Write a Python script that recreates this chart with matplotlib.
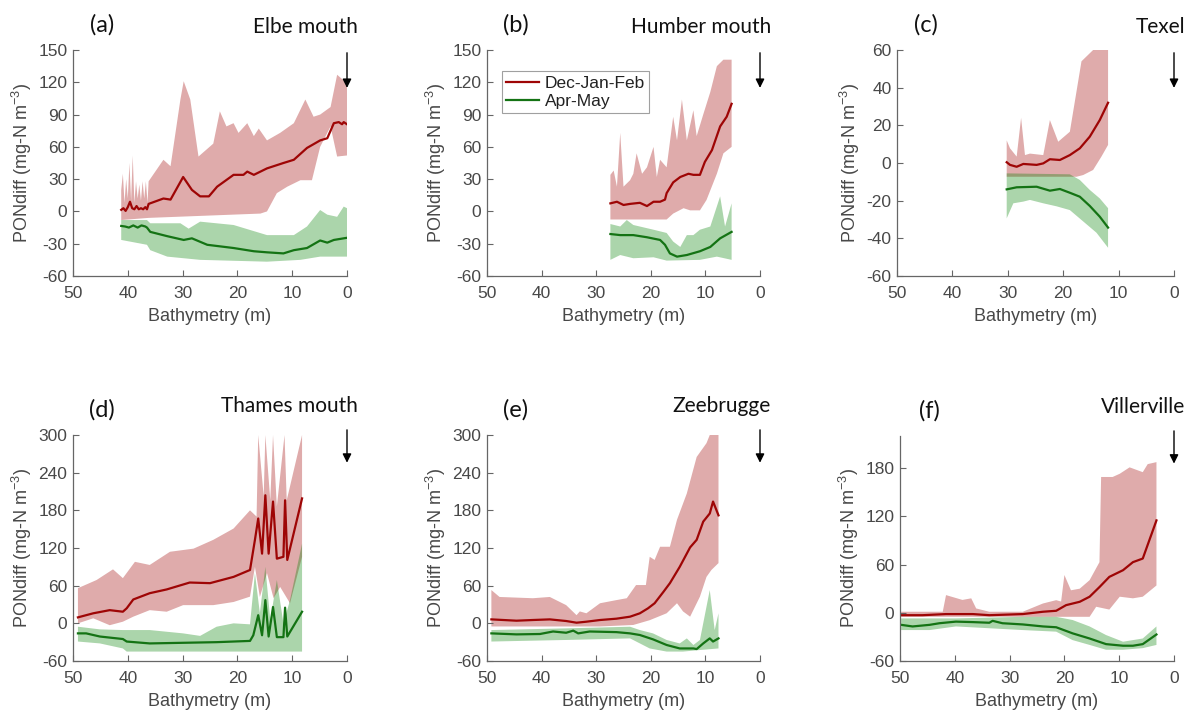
import numpy as np
import matplotlib
matplotlib.use("Agg")
import matplotlib.pyplot as plt

plt.rcParams['font.family'] = ['Liberation Sans', 'DejaVu Sans']
plt.rcParams['mathtext.default'] = 'regular'
plt.rcParams['axes.unicode_minus'] = False

#########################################################################
# data (depth in m, PONdiff in mg-N m-3)

# (a) Elbe mouth
a_red_x = [41.2, 40.8, 40.4, 40.0, 39.6, 39.2, 38.8, 38.4, 38.0, 37.6, 37.2, 36.8, 36.5, 36.2, 33.5, 32.2, 29.9, 28.3,
           26.8, 25.2, 23.7, 20.7, 18.9, 18.2, 17.0, 14.6, 11.6, 9.7, 7.3, 4.9, 3.6, 2.4, 1.5, 0.9, 0.6, 0.0]
a_red_y = [1.5, 3, 0.5, 4, 9, 3, 2, 5, 2, 3, 2, 4, 2, 7, 12, 11, 32, 20,
           14, 14, 23, 34, 34, 37, 34, 40, 45, 48, 59, 66, 68, 82, 83, 81, 83, 81]
a_red_up_x = [41.2, 40.9, 40.6, 40.3, 40.0, 39.7, 39.4, 39.1, 38.8, 38.5, 38.2, 37.9, 37.6, 37.3, 37.0, 36.7, 36.4,
              36.2, 33.5, 32.2, 30.4, 29.8, 28.6, 27.1, 24.4, 23.2, 22.0, 20.7, 19.8, 18.2, 17.0, 16.1, 14.6,
              12.2, 9.7, 7.6, 6.1, 4.9, 3.0, 1.8, 0.0]
a_red_up_y = [20, 35, 8, 30, 12, 45, 10, 52, 8, 28, 12, 25, 10, 28, 12, 28, 8,
              28, 48, 42, 104, 121, 104, 51, 63, 93, 79, 82, 73, 82, 70, 77, 66,
              73, 82, 104, 88, 90, 97, 127, 119]
a_red_lo_x = [41.2, 36.2, 15.8, 14.6, 12.8, 10.9, 8.5, 6.4, 4.9, 3.0, 1.8, 0.0]
a_red_lo_y = [-8, -6, -2, 0, 17, 23, 29, 29, 60, 79, 51, 52]
a_grn_x = [41.2, 40.5, 39.8, 39.0, 38.2, 37.5, 36.8, 36.5, 35.9, 32.8, 29.8, 28.3, 25.5, 20.7, 17.0, 14.6,
           11.6, 9.7, 7.3, 4.9, 3.6, 2.4, 0.0]
a_grn_y = [-13.5, -14, -15, -13, -15, -13, -14, -15, -19, -23, -26.5, -25, -31, -34, -37, -38,
           -39, -36, -34, -27, -29, -26.5, -24.5]
a_grn_up_x = [41.2, 36.5, 35.9, 30.4, 28.9, 26.8, 20.7, 14.6, 9.7, 7.3, 4.9, 3.6, 1.8, 0.6, 0.0]
a_grn_up_y = [-8, -8, -11, -11, -16, -9.5, -12.6, -22, -22, -14, 1.3, -3, -5, 4.5, 3]
a_grn_lo_x = [41.2, 36.5, 35.9, 32.8, 26.8, 14.6, 8.5, 4.9, 0.0]
a_grn_lo_y = [-26.5, -31, -36, -42, -45, -46.7, -45, -42, -42]

# (b) Humber mouth
b_red_x = [27.4, 26.2, 25.0, 23.8, 22.0, 20.7, 19.5, 18.3, 17.4, 17.1, 15.9, 14.6, 13.1, 12.2, 11.0, 10.1, 8.8, 7.3, 6.1, 5.2]
b_red_y = [7.5, 9, 6, 7, 8, 5, 9, 9, 11, 17, 27, 32, 35, 34, 34, 46, 57, 79, 88, 100]
b_red_up_x = [27.4, 26.8, 26.2, 25.6, 25.0, 23.8, 23.2, 22.6, 21.6, 20.7, 19.5, 18.9, 18.3, 17.1, 15.9, 15.2, 14.3,
              13.4, 12.2, 11.6, 10.4, 9.1, 7.9, 6.7, 5.2]
b_red_up_y = [34, 38, 23, 73, 23, 29, 35, 54, 35, 41, 60, 32, 48, 41, 88, 66, 104,
              66, 94, 70, 90, 111, 135, 141, 141]
b_red_lo_x = [27.4, 17.1, 15.9, 14.0, 12.8, 11.0, 9.8, 7.9, 6.7, 5.2]
b_red_lo_y = [-7.5, -7.5, -2, 3, 1, 1, 10.6, 35, 54, 60]
b_grn_x = [27.4, 25.6, 23.2, 20.7, 18.3, 17.4, 16.5, 15.2, 13.4, 11.0, 9.1, 7.3, 5.2]
b_grn_y = [-21, -22, -22, -24, -26.5, -31, -39, -42, -40.5, -37, -33, -25, -19]
b_grn_up_x = [27.4, 25.6, 24.4, 23.2, 19.5, 17.1, 15.9, 14.6, 13.4, 12.2, 11.0, 9.1, 7.3, 6.4, 5.2]
b_grn_up_y = [-11.7, -14, -8, -12.6, -17, -20, -28, -33, -22, -22, -17, -14, 14, -14, 7.5]
b_grn_lo_x = [27.4, 25.6, 23.2, 19.5, 17.1, 11.0, 7.9, 5.2]
b_grn_lo_y = [-45, -40.5, -43.5, -42.6, -45.7, -45, -42, -45]

# (c) Texel
c_red_x = [30.2, 29.6, 28.4, 27.2, 24.8, 23.6, 22.4, 20.6, 18.8, 17.0, 15.2, 13.4, 11.9]
c_red_y = [0.4, -1, -2, -0.5, -1, -0.2, 2, 1.6, 4.2, 7.8, 14, 22.8, 32]
c_red_up_x = [30.2, 29.6, 28.4, 27.6, 26.9, 26.0, 23.6, 22.4, 20.9, 18.8, 16.7, 14.6, 11.9]
c_red_up_y = [12, 7.8, 3.4, 24, 4.2, 5, 4.2, 22.8, 11.3, 16.6, 54, 60, 60]
c_red_lo_x = [30.2, 17.6, 16.4, 14.6, 13.1, 11.9]
c_red_lo_y = [-7.3, -7.3, -6.4, -3.7, 3.4, 9.6]
c_grn_x = [30.2, 28.4, 24.8, 22.4, 20.6, 18.8, 17.0, 15.2, 13.4, 11.9]
c_grn_y = [-14, -12.9, -12.6, -14.7, -13.8, -15.8, -17.9, -22.8, -28.5, -34.3]
c_grn_up_x = [30.2, 18.8, 17.0, 15.2, 13.4, 11.9]
c_grn_up_y = [-5.5, -6, -9, -14.3, -18.8, -24]
c_grn_lo_x = [30.2, 29.0, 27.2, 26.0, 23.6, 21.2, 18.8, 16.4, 14.0, 11.9]
c_grn_lo_y = [-29.4, -21.4, -20.5, -19.6, -21.4, -23, -25, -31, -37, -45]

# (d) Thames mouth
d_red_x = [49.1, 46.3, 43.3, 40.9, 40.2, 39.0, 36.0, 32.9, 28.7, 25.0, 20.7, 17.7, 16.8, 16.2, 15.5, 14.9, 14.3,
           13.5, 12.8, 11.6, 11.3, 10.9, 8.2]
d_red_y = [9.5, 16, 21, 18.5, 24, 38, 48, 54, 65, 64, 74, 85, 133, 167, 111, 204, 111,
           194, 103, 106, 196, 101, 199]
d_red_up_x = [49.1, 45.7, 42.7, 40.9, 38.7, 36.0, 32.3, 28.0, 24.4, 20.7, 17.7, 16.5, 16.2, 15.2, 14.9, 14.0,
              13.5, 12.8, 11.4, 11.0, 8.2]
d_red_up_y = [56, 69, 86, 72, 98, 93, 114, 119, 133, 151, 180, 170, 300, 202, 300, 196,
              300, 186, 300, 196, 300]
d_red_lo_x = [49.1, 46.3, 43.3, 40.9, 39.0, 36.0, 32.9, 29.9, 24.4, 20.7, 17.7, 16.8, 15.9, 14.6, 13.4, 12.2,
              10.4, 8.2]
d_red_lo_y = [0, 8, -3, 2.6, 10.6, 21, 18.5, 29, 29, 34, 42.5, 90, 42, 80, 40, 58, 32, 106]
d_grn_x = [49.1, 47.6, 45.1, 40.9, 40.2, 36.0, 29.9, 23.8, 17.7, 17.1, 16.2, 15.5, 14.9, 14.3, 13.5, 12.8,
           11.6, 11.3, 10.9, 8.2]
d_grn_y = [-16, -16, -21, -25, -29, -32, -31, -30, -28, -19, 13, -19, 37, -21, 26, -22, -22, 25, -21, 18.5]
d_grn_up_x = [49.1, 45.1, 40.9, 36.0, 29.9, 26.8, 23.8, 20.7, 17.7, 16.8, 15.9, 14.9, 14.0, 12.8, 11.6, 10.4, 8.2]
d_grn_up_y = [-5.4, -9.6, -10.7, -10.7, -16, -20, -5.4, 0, -1.6, 80, 16, 90, 5, 69, 0, 37, 127]
d_grn_lo_x = [49.1, 45.1, 40.9, 40.2, 8.2]
d_grn_lo_y = [-29, -32, -40, -45, -45]

# (e) Zeebrugge
e_red_x = [49.2, 44.6, 41.6, 38.5, 35.5, 33.6, 31.8, 29.3, 26.3, 23.8, 22.0, 20.5, 19.3, 17.7, 16.5, 14.7,
           12.8, 11.6, 10.4, 9.2, 8.6, 7.6]
e_red_y = [6.3, 4.2, 5.3, 6.3, 3.7, 1, 2.6, 5.3, 7.4, 10.6, 16, 24, 32, 50, 64, 90,
           121, 133, 162, 175, 194, 172]
e_red_up_x = [49.2, 47.7, 41.6, 38.5, 35.5, 33.6, 33.0, 31.8, 29.3, 26.3, 24.4, 22.7, 20.9, 20.2, 19.3, 18.3,
              16.5, 15.2, 13.4, 11.6, 9.8, 9.2, 7.6]
e_red_up_y = [53, 42, 40, 42, 29, 13, 19, 16, 32, 37, 40, 61, 61, 106, 101, 122,
              122, 165, 207, 265, 287, 300, 300]
e_red_lo_x = [49.2, 29.3, 23.2, 20.2, 17.1, 15.2, 14.1, 12.8, 11.0, 9.8, 8.9, 7.6]
e_red_lo_y = [-5, -5, -2.6, 5, 16, 32, 19, 10.6, 42.5, 74, 85, 96]
e_grn_x = [49.2, 44.6, 40.3, 37.9, 35.5, 34.2, 33.3, 31.2, 26.3, 23.8, 22.0, 19.6, 17.1, 14.7, 12.2, 11.6,
           10.4, 9.2, 8.6, 7.6]
e_grn_y = [-16, -17.6, -17, -13, -15, -11.6, -16, -13, -14, -16, -18.6, -25.5, -34.5, -40, -40, -41,
           -32, -24, -29, -24]
e_grn_up_x = [49.2, 35.5, 23.8, 22.0, 19.6, 17.1, 14.7, 13.4, 12.2, 11.0, 9.2, 8.3, 7.6]
e_grn_up_y = [-10.7, -8, -5.4, -10.7, -16, -26.5, -32, -24, -34.5, -26.5, 53, -10.7, 16]
e_grn_lo_x = [49.2, 35.5, 23.8, 20.2, 17.1, 14.1, 11.0, 7.6]
e_grn_lo_y = [-29, -26.5, -24, -40, -45, -45, -42.5, -40]

# (f) Villerville
f_red_x = [49.8, 45.9, 41.6, 36.7, 33.7, 27.6, 23.9, 21.5, 19.7, 17.2, 15.4, 13.6, 11.8, 9.3, 7.5, 5.7, 3.2]
f_red_y = [-3, -3, -1.6, -1.6, -3, -1.6, 1.3, 2.5, 9.5, 13.7, 20, 32, 44.7, 53, 63, 67.5, 115]
f_red_up_x = [49.8, 42.2, 41.6, 38.6, 37.0, 36.1, 33.7, 27.6, 23.9, 21.5, 20.6, 20.0, 18.8, 17.2, 15.4, 13.6,
              13.3, 11.2, 9.9, 8.1, 5.7, 4.8, 3.2]
f_red_up_y = [1.3, 1.3, 22, 16, 18, 5.4, 1.3, 1.3, 11.6, 15.7, 14, 47, 28, 30, 40.6, 63,
              169, 169, 173, 181, 175, 185, 187.5]
f_red_lo_x = [49.8, 15.4, 14.2, 11.8, 9.9, 7.5, 5.7, 3.2]
f_red_lo_y = [-5, -5, 7.5, 4, 20, 18, 20, 34]
f_grn_x = [49.8, 47.7, 44.6, 42.8, 39.8, 36.7, 33.7, 33.1, 31.3, 27.6, 23.9, 21.5, 18.5, 15.4, 12.4, 9.3,
           7.5, 5.7, 3.2]
f_grn_y = [-15, -17, -15, -13, -11, -11.6, -12.4, -10, -13, -14.5, -17, -18, -25.6, -32, -39, -41,
           -41, -39, -27]
f_grn_up_x = [49.8, 39.8, 27.6, 21.5, 18.5, 15.4, 12.4, 9.3, 5.7, 3.2]
f_grn_up_y = [-7, -7, -5, -5, -9, -17, -27.7, -36, -32, -17]
f_grn_lo_x = [49.8, 44.6, 39.8, 27.6, 21.5, 18.5, 15.4, 12.4, 9.3, 5.7, 3.2]
f_grn_lo_y = [-21.5, -21.5, -17, -21.5, -23.5, -34, -40, -46, -46, -44, -40]

panel_labels = ["(a)", "(b)", "(c)", "(d)", "(e)", "(f)"]
site_names = ["Elbe mouth", "Humber mouth", "Texel", "Thames mouth", "Zeebrugge", "Villerville"]
series_names = ["Dec-Jan-Feb", "Apr-May"]
y_limits = [(-60, 150), (-60, 150), (-60, 60), (-60, 300), (-60, 300), (-60, 220)]
y_ticks = [np.arange(-60, 151, 30), np.arange(-60, 151, 30), np.arange(-60, 61, 20),
           np.arange(-60, 301, 60), np.arange(-60, 301, 60), np.arange(-60, 181, 60)]
x_ticks = [50, 40, 30, 20, 10, 0]

#########################################################################

red_line = (0.62, 0.02, 0.02)
red_fill = (0.62, 0.0, 0.0)
grn_line = (0.08, 0.45, 0.08)
grn_fill = (0.0, 0.5, 0.0)
tick_col = '#484848'

panels = [
    (a_red_x, a_red_y, a_red_up_x, a_red_up_y, a_red_lo_x, a_red_lo_y,
     a_grn_x, a_grn_y, a_grn_up_x, a_grn_up_y, a_grn_lo_x, a_grn_lo_y),
    (b_red_x, b_red_y, b_red_up_x, b_red_up_y, b_red_lo_x, b_red_lo_y,
     b_grn_x, b_grn_y, b_grn_up_x, b_grn_up_y, b_grn_lo_x, b_grn_lo_y),
    (c_red_x, c_red_y, c_red_up_x, c_red_up_y, c_red_lo_x, c_red_lo_y,
     c_grn_x, c_grn_y, c_grn_up_x, c_grn_up_y, c_grn_lo_x, c_grn_lo_y),
    (d_red_x, d_red_y, d_red_up_x, d_red_up_y, d_red_lo_x, d_red_lo_y,
     d_grn_x, d_grn_y, d_grn_up_x, d_grn_up_y, d_grn_lo_x, d_grn_lo_y),
    (e_red_x, e_red_y, e_red_up_x, e_red_up_y, e_red_lo_x, e_red_lo_y,
     e_grn_x, e_grn_y, e_grn_up_x, e_grn_up_y, e_grn_lo_x, e_grn_lo_y),
    (f_red_x, f_red_y, f_red_up_x, f_red_up_y, f_red_lo_x, f_red_lo_y,
     f_grn_x, f_grn_y, f_grn_up_x, f_grn_up_y, f_grn_lo_x, f_grn_lo_y),
]

W, H = 1194, 715
fig = plt.figure(figsize=(W / 100, H / 100), dpi=100)

# axes boxes in pixels: left, top, right, bottom
boxes = [(73, 50, 347, 276), (487, 50, 760, 276), (897, 50, 1174, 276),
         (73, 435, 347, 661), (487, 435, 760, 661), (900, 436, 1174, 661)]


def band(ax, ux, uy, lx, ly, col):
    px = np.concatenate([ux, lx[::-1]])
    py = np.concatenate([uy, ly[::-1]])
    ax.fill(px, py, color=col, alpha=0.33, lw=0)


for i, (l, t, r, b) in enumerate(boxes):
    ax = fig.add_axes([l / W, 1 - b / H, (r - l) / W, (b - t) / H])
    (rx, ry, rux, ruy, rlx, rly, gx, gy, gux, guy, glx, gly) = [np.array(v, dtype=float) for v in panels[i]]

    band(ax, rux, ruy, rlx, rly, red_fill)
    band(ax, gux, guy, glx, gly, grn_fill)
    ax.plot(rx, ry, color=red_line, lw=1.6, label=series_names[0])
    ax.plot(gx, gy, color=grn_line, lw=1.6, label=series_names[1])

    ax.set_xlim(50, 0)
    ax.set_ylim(*y_limits[i])
    ax.set_xticks(x_ticks)
    ax.set_yticks(y_ticks[i])
    ax.spines['top'].set_visible(False)
    ax.spines['right'].set_visible(False)
    for s in ['left', 'bottom']:
        ax.spines[s].set_color('#666666')
        ax.spines[s].set_linewidth(0.9)
    ax.tick_params(direction='in', length=4, width=0.8, colors='#666666', labelcolor=tick_col,
                   labelsize=12.5)
    ax.tick_params(axis='x', pad=7)
    ax.tick_params(axis='y', pad=4)
    ax.set_xlabel('Bathymetry (m)', fontsize=13, color=tick_col, labelpad=5)
    ax.set_ylabel('PONdiff (mg-N m$^{-3}$)', fontsize=13, color=tick_col, labelpad=3)

    # arrow marking the mouth (0 m)
    y_top = 1.0 if i < 3 else 1.035
    y_tip = 0.82 if i < 3 else 0.865
    ax.annotate('', xy=(0, y_tip), xytext=(0, y_top),
                xycoords=('data', 'axes fraction'), textcoords=('data', 'axes fraction'),
                arrowprops=dict(arrowstyle='-|>', color='black', lw=1.0, mutation_scale=13),
                annotation_clip=False)

    if i == 1:
        leg = ax.legend(loc='upper left', bbox_to_anchor=(0.055, 0.905), borderaxespad=0,
                        fontsize=12.5, frameon=True, fancybox=False, handlelength=1.9,
                        handletextpad=0.3, borderpad=0.25, labelspacing=0.15)
        leg.get_frame().set_edgecolor('#888888')
        leg.get_frame().set_linewidth(0.8)
        for txt in leg.get_texts():
            txt.set_color('#222222')

    ty = 1.10 if i < 3 else 1.13
    ax.text(0.106, 1.11, panel_labels[i], transform=ax.transAxes, ha='center', va='center',
            fontsize=17, family=['Lato', 'DejaVu Sans'], color='#111111')
    ax.text(1.04, ty, site_names[i], transform=ax.transAxes, ha='right', va='center',
            fontsize=15, family=['Lato', 'DejaVu Sans'], color='#111111')

fig.savefig('out.png', dpi=100)
